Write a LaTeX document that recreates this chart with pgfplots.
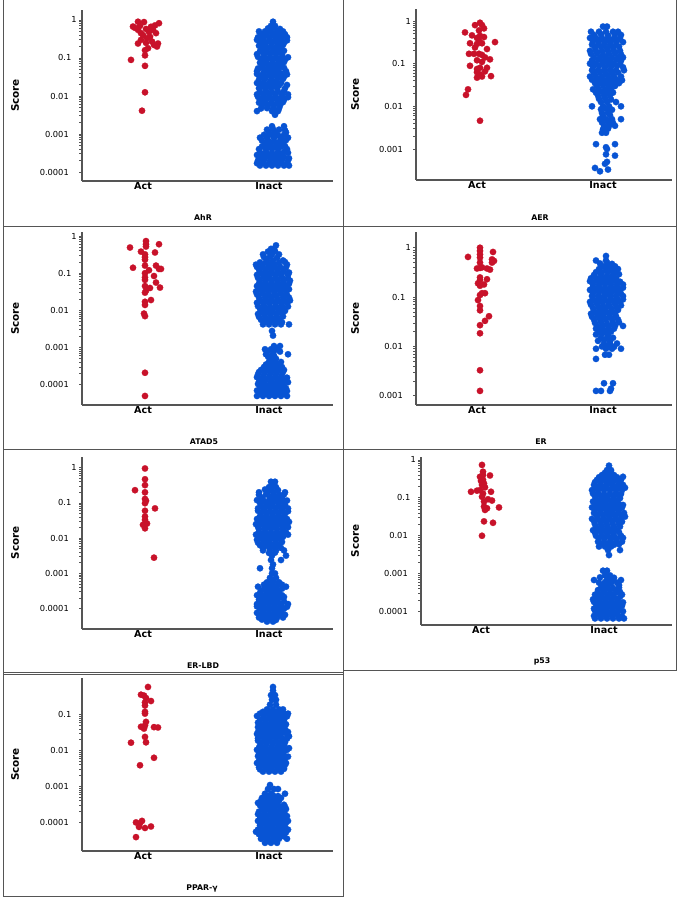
\documentclass[border=0pt]{standalone}
\usepackage{fontspec}
\setmainfont{DejaVu Sans}
\usepackage{pgfplots}
\pgfplotsset{compat=1.18}
\definecolor{actred}{RGB}{200,18,42}
\definecolor{inblue}{RGB}{8,84,212}
\definecolor{framec}{RGB}{85,85,85}
\newcommand{\tone}{\rlap{\kern3.2pt 1}}
\newcommand{\tpone}{\rlap{\kern2.5pt 0.1}\phantom{0.1}}
\pgfplotsset{
  panel/.style={
    scale only axis,
    axis x line=bottom, axis y line=left,
    axis line style={draw=framec, line width=1.1pt, -},
    xtick={0,126}, xticklabels={Act,Inact},
    x tick label style={font=\fontsize{9.6}{11}\selectfont\bfseries, inner sep=0pt, anchor=north, yshift=2pt},
    y tick label style={font=\fontsize{8.3}{10}\selectfont, inner sep=0pt, anchor=east, xshift=-10pt},
    tick align=outside, major tick length=3pt,
    every tick/.style={draw=framec, line width=0.8pt},
    every x tick/.style={draw=none},
    clip=false,
  },
  actpts/.style={only marks, mark=*, mark size=3.2pt, color=actred, mark options={fill=actred, draw=actred, line width=0.2pt}},
  inpts/.style={only marks, mark=*, mark size=3.2pt, color=inblue, mark options={fill=inblue, draw=inblue, line width=0.2pt}},
}
\begin{document}
\begin{tikzpicture}[x=1pt,y=1pt]
\path[use as bounding box] (0,0) rectangle (680,900);
% frames
\begin{scope}[draw=framec, line width=1pt]
\draw (3,900) -- (3,3);
\draw (343,900) -- (343,3);
\draw (676,900) -- (676,229);
\draw (3,673) -- (676,673);
\draw (3,450) -- (676,450);
\draw (3,227) -- (343,227);
\draw (3,225) -- (343,225);
\draw (343,229) -- (676,229);
\draw (3,3) -- (343,3);
\end{scope}
% titles and score labels
\begin{scope}[font=\fontsize{7.8}{9}\selectfont\bfseries]
\node at (203,682) {AhR};
\node at (540,682) {AER};
\node at (204,458) {ATAD5};
\node at (541,458) {ER};
\node at (203,234) {ER-LBD};
\node at (542,238.3) {p53};
\node at (202,11.3) {PPAR-γ};
\end{scope}
\begin{scope}[font=\fontsize{10.4}{12}\selectfont\bfseries]
\node[rotate=90] at (15,804.5) {Score};
\node[rotate=90] at (355,805.5) {Score};
\node[rotate=90] at (15,581.5) {Score};
\node[rotate=90] at (355,581.5) {Score};
\node[rotate=90] at (15,357.2) {Score};
\node[rotate=90] at (355,359.2) {Score};
\node[rotate=90] at (15,135.5) {Score};
\end{scope}

% ---------------- AhR ----------------
\begin{axis}[ymode=log, panel, at={(82pt,719pt)}, anchor=south west, width=251pt, height=171pt,
  xmin=-61, xmax=190, ymin=5.8e-5, ymax=1.83,
  ytick={1e-4,1e-3,1e-2,1e-1,1}, yticklabels={0.0001,0.001,0.01,\tpone,\tone}]
\addplot[actpts] coordinates {(-5,0.90) (1,0.88) (16,0.82) (-10,0.67) (-3,0.70) (8,0.66) (12,0.72) (3,0.58) (-5,0.55) (13,0.45) (0,0.40) (7,0.36) (-5,0.24) (3,0.25) (11,0.22) (-2,0.30) (5,0.18) (14,0.20) (9,0.27) (2,0.16) (15,0.24) (-8,0.62) (6,0.48) (-2,0.45) (10,0.55) (4,0.33) (-12,0.089) (2,0.117) (2,0.062) (2,0.0125) (-1,0.0041)};
\addplot[inpts] coordinates {(130,0.9) (128,0.7) (132,0.7)
(116,0.5) (122,0.5) (128,0.5) (134,0.5) (140,0.5)
(115,0.35) (121,0.35) (127,0.35) (133,0.35) (139,0.35) (144,0.35)
(117,0.25) (123,0.25) (129,0.25) (135,0.25) (141,0.25)
(119,0.18) (125,0.18) (131,0.18) (137,0.18)
(114,0.126) (121,0.126) (127,0.126) (133,0.126) (139,0.126)
(118,0.09) (124,0.09) (130,0.09) (136,0.09) (142,0.09)
(120,0.063) (126,0.063) (132,0.063) (138,0.063)
(114,0.045) (122,0.045) (128,0.045) (134,0.045) (143,0.045)
(117,0.032) (123,0.032) (129,0.032) (135,0.032) (141,0.032)
(114,0.022) (120,0.022) (126,0.022) (132,0.022) (138,0.022)
(116,0.016) (122,0.016) (128,0.016) (134,0.016) (142,0.016)
(114,0.011) (120,0.011) (126,0.011) (132,0.011) (139,0.011) (145,0.011)
(117,0.008) (123,0.008) (129,0.008) (135,0.008) (141,0.008)
(119,0.0056) (125,0.0056) (131,0.0056) (137,0.0056)
(114,0.004) (129,0.004) (135,0.004) (132,0.0032)
(129,0.0016) (141,0.0016)
(126,0.0011) (132,0.0011) (143,0.0011)
(117,0.0008) (124,0.0008) (131,0.0008) (138,0.0008) (145,0.0008)
(122,0.00056) (128,0.00056) (134,0.00056) (140,0.00056)
(116,0.0004) (123,0.0004) (129,0.0004) (135,0.0004) (144,0.0004)
(114,0.00028) (120,0.00028) (126,0.00028) (132,0.00028) (138,0.00028)
(115,0.0002) (121,0.0002) (127,0.0002) (133,0.0002) (139,0.0002) (145,0.0002)
(117,0.000148) (123,0.000148) (129,0.000148) (135,0.000148) (141,0.000148) (146,0.000148)};
\addplot[inpts] coordinates {(125,0.6) (131,0.62) (137,0.58)
(118,0.42) (124,0.44) (130,0.41) (136,0.43) (142,0.42)
(114,0.3) (120,0.31) (126,0.29) (132,0.3) (138,0.31) (144,0.29)
(116,0.21) (122,0.22) (128,0.2) (134,0.21) (140,0.22)
(117,0.15) (123,0.155) (129,0.145) (135,0.15) (141,0.155)
(115,0.107) (121,0.11) (127,0.104) (133,0.107) (139,0.11) (145,0.104)
(117,0.075) (123,0.078) (129,0.073) (135,0.075) (141,0.078)
(115,0.053) (118,0.055) (124,0.052) (130,0.054) (136,0.053) (141,0.055)
(114,0.038) (120,0.039) (126,0.037) (132,0.038) (138,0.039) (144,0.037)
(116,0.027) (122,0.028) (128,0.026) (134,0.027) (140,0.028)
(118,0.019) (124,0.0195) (130,0.0185) (136,0.019) (144,0.0195)
(117,0.013) (123,0.0135) (129,0.0127) (135,0.013) (141,0.0135)
(115,0.0095) (121,0.0097) (127,0.0093) (133,0.0095) (139,0.0097) (145,0.0093)
(116,0.0067) (122,0.0069) (128,0.0065) (134,0.0067) (140,0.0069)
(118,0.0047) (124,0.0048) (130,0.0046) (136,0.0047)
(124,0.0013) (130,0.00135) (136,0.0013) (142,0.00125)
(121,0.00095) (128,0.00097) (135,0.00093) (141,0.00095)
(119,0.00067) (125,0.00069) (131,0.00065) (137,0.00067) (143,0.00069)
(119,0.00047) (126,0.00048) (132,0.00046) (138,0.00047) (142,0.00048)
(117,0.00033) (123,0.00034) (129,0.00032) (135,0.00033) (141,0.00034) (145,0.00032)
(117,0.00024) (123,0.00025) (129,0.00023) (135,0.00024) (141,0.00025) (146,0.00023)
(114,0.00017) (120,0.000175) (126,0.000165) (132,0.00017) (138,0.000175) (144,0.000165)};
\end{axis}

% ---------------- AER ----------------
\begin{axis}[ymode=log, panel, at={(416pt,720pt)}, anchor=south west, width=256pt, height=171pt,
  xmin=-61, xmax=195, ymin=1.88e-4, ymax=1.91,
  ytick={1e-3,1e-2,1e-1,1}, yticklabels={0.001,0.01,\tpone,\tone}]
\addplot[actpts] coordinates {(-12,0.54) (3,0.91) (7,0.67) (-5,0.46) (3,0.45) (0,0.40) (7,0.42) (18,0.32) (-7,0.30) (0,0.29) (5,0.30) (10,0.22) (-8,0.17) (-3,0.17) (2,0.17) (5,0.16) (0,0.12) (5,0.11) (13,0.126) (-7,0.089) (3,0.08) (10,0.08) (0,0.075) (0,0.063) (8,0.066) (0,0.047) (5,0.05) (14,0.051) (-9,0.025) (-11,0.0185) (3,0.0046) (-2,0.8) (5,0.8) (2,0.6) (2,0.35) (8,0.14) (-2,0.24) (3,0.056)};
\addplot[inpts] coordinates {(126,0.74) (130,0.74)
(114,0.56) (122,0.56) (129,0.56) (136,0.56) (141,0.56)
(113,0.4) (119,0.4) (125,0.4) (131,0.4) (137,0.4) (143,0.4)
(115,0.28) (121,0.28) (127,0.28) (133,0.28) (139,0.28)
(113,0.2) (119,0.2) (125,0.2) (131,0.2) (137,0.2) (143,0.2)
(117,0.14) (123,0.14) (129,0.14) (135,0.14) (141,0.14) (146,0.14)
(113,0.1) (119,0.1) (125,0.1) (131,0.1) (137,0.1) (143,0.1)
(115,0.07) (121,0.07) (127,0.07) (133,0.07) (139,0.07) (147,0.07)
(113,0.05) (119,0.05) (125,0.05) (131,0.05) (137,0.05) (144,0.05)
(118,0.035) (124,0.035) (130,0.035) (136,0.035) (142,0.035)
(116,0.025) (122,0.025) (128,0.025) (134,0.025)
(121,0.018) (127,0.018) (133,0.018)
(124,0.0126) (130,0.0126) (139,0.0126)
(115,0.01) (126,0.01) (132,0.01) (144,0.01)
(125,0.007) (131,0.007)
(123,0.005) (129,0.005) (135,0.005) (144,0.005)
(127,0.0035) (132,0.0035) (138,0.0035)
(125,0.0024) (129,0.0024)
(119,0.0013) (138,0.0013) (129,0.0011) (130,0.001)
(129,0.00075) (138,0.0007)
(128,0.00045) (130,0.0005) (118,0.00036) (131,0.00033) (123,0.0003)};
\addplot[inpts] coordinates {(117,0.47) (124,0.49) (131,0.46) (138,0.48) (144,0.47)
(116,0.33) (122,0.34) (128,0.32) (134,0.33) (140,0.34) (146,0.32)
(118,0.24) (124,0.25) (130,0.23) (136,0.24) (142,0.25)
(114,0.17) (120,0.175) (126,0.165) (132,0.17) (138,0.175) (144,0.165)
(115,0.12) (121,0.124) (127,0.117) (133,0.12) (139,0.124) (144,0.117)
(116,0.085) (122,0.088) (128,0.082) (134,0.085) (140,0.088) (146,0.082)
(117,0.06) (123,0.062) (129,0.058) (135,0.06) (141,0.062)
(115,0.042) (121,0.043) (127,0.041) (133,0.042) (139,0.043) (145,0.041)
(120,0.03) (126,0.031) (132,0.029) (138,0.03)
(119,0.021) (125,0.022) (131,0.0205) (136,0.021)
(122,0.015) (128,0.0155) (134,0.0145)
(124,0.0085) (129,0.0088) (135,0.0083)
(126,0.006) (133,0.0062)
(125,0.0042) (131,0.0043) (136,0.0041)
(126,0.0029) (131,0.003)};
\end{axis}

% ---------------- ATAD5 ----------------
\begin{axis}[ymode=log, panel, at={(82pt,495pt)}, anchor=south west, width=251pt, height=173pt,
  xmin=-61, xmax=190, ymin=2.86e-5, ymax=1.28,
  ytick={1e-4,1e-3,1e-2,1e-1,1}, yticklabels={0.0001,0.001,0.01,\tpone,\tone}]
\addplot[actpts] coordinates {(-13,0.49) (3,0.73) (3,0.6) (3,0.52) (16,0.6) (12,0.36) (2,0.32) (2,0.27) (2,0.23) (-10,0.14) (13,0.16) (16,0.13) (18,0.13) (2,0.16) (2,0.1) (2,0.077) (2,0.066) (11,0.084) (13,0.056) (17,0.041) (2,0.045) (7,0.04) (3,0.034) (2,0.03) (8,0.019) (2,0.017) (2,0.014) (1,0.0082) (2,0.007) (2,0.00021) (2,0.00005) (-2,0.38) (6,0.12)};
\addplot[inpts] coordinates {(133,0.56) (128,0.45) (131,0.45)
(120,0.32) (129,0.32) (136,0.32)
(124,0.22) (130,0.22) (140,0.22)
(113,0.17) (120,0.17) (126,0.17) (132,0.17) (144,0.17)
(116,0.126) (122,0.126) (128,0.126) (134,0.126) (140,0.126)
(114,0.09) (120,0.09) (126,0.09) (132,0.09) (138,0.09) (145,0.09)
(117,0.063) (123,0.063) (129,0.063) (135,0.063) (141,0.063) (147,0.063)
(114,0.045) (120,0.045) (126,0.045) (132,0.045) (138,0.045) (144,0.045)
(113,0.032) (119,0.032) (125,0.032) (131,0.032) (137,0.032) (143,0.032)
(116,0.022) (122,0.022) (128,0.022) (134,0.022) (140,0.022) (146,0.022)
(114,0.016) (120,0.016) (126,0.016) (132,0.016) (138,0.016) (144,0.016)
(117,0.011) (123,0.011) (129,0.011) (135,0.011) (141,0.011)
(115,0.008) (121,0.008) (127,0.008) (133,0.008) (139,0.008)
(118,0.0056) (124,0.0056) (130,0.0056) (136,0.0056)
(120,0.0042) (126,0.0042) (132,0.0042) (138,0.0042) (146,0.0042)
(129,0.0028) (130,0.0021)
(131,0.0011) (137,0.0011)
(122,0.0009) (128,0.0009) (134,0.0009)
(123,0.00066) (130,0.00066) (145,0.00066)
(128,0.0005) (133,0.0005)
(123,0.00035) (129,0.00035) (135,0.00035)
(118,0.00025) (124,0.00025) (130,0.00025) (136,0.00025) (141,0.00025)
(115,0.00019) (121,0.00019) (127,0.00019) (133,0.00019) (139,0.00019)
(117,0.00014) (123,0.00014) (129,0.00014) (135,0.00014) (142,0.00014)
(115,0.000105) (121,0.000105) (127,0.000105) (133,0.000105) (139,0.000105)
(119,0.00008) (125,0.00008) (131,0.00008) (137,0.00008) (143,0.00008)
(116,0.000063) (122,0.000063) (128,0.000063) (134,0.000063) (140,0.000063)
(114,0.00005) (120,0.00005) (126,0.00005) (132,0.00005) (138,0.00005) (144,0.00005)};
\addplot[inpts] coordinates {(125,0.38) (132,0.39)
(121,0.27) (127,0.28) (134,0.26)
(117,0.195) (123,0.2) (129,0.19) (136,0.195) (142,0.2)
(114,0.147) (119,0.15) (125,0.143) (131,0.147) (137,0.15) (143,0.143)
(117,0.107) (123,0.11) (129,0.104) (135,0.107) (141,0.11) (146,0.104)
(115,0.075) (121,0.078) (127,0.073) (133,0.075) (139,0.078) (145,0.073)
(116,0.053) (122,0.055) (128,0.052) (134,0.053) (140,0.055) (146,0.052)
(116,0.038) (122,0.039) (128,0.037) (134,0.038) (140,0.039) (146,0.037)
(114,0.027) (120,0.028) (126,0.026) (132,0.027) (138,0.028) (144,0.026)
(117,0.019) (123,0.0195) (129,0.0185) (135,0.019) (141,0.0195) (147,0.0185)
(115,0.013) (121,0.0135) (127,0.0127) (133,0.013) (139,0.0135) (145,0.0127)
(118,0.0095) (124,0.0097) (130,0.0093) (136,0.0095) (142,0.0097)
(116,0.0067) (122,0.0069) (128,0.0065) (134,0.0067) (140,0.0069)
(121,0.0048) (127,0.0049) (133,0.0047) (139,0.0048)
(125,0.0008) (131,0.00082) (137,0.00078)
(125,0.00058) (131,0.0006)
(126,0.00042) (132,0.00043) (138,0.00041)
(121,0.0003) (127,0.00031) (133,0.00029) (139,0.0003)
(116,0.00022) (122,0.000225) (128,0.000215) (134,0.00022) (140,0.000225)
(114,0.00016) (120,0.000165) (126,0.000155) (132,0.00016) (138,0.000165) (144,0.000155)
(116,0.00012) (122,0.000124) (128,0.000117) (134,0.00012) (140,0.000124) (145,0.000117)
(117,0.00009) (123,0.000093) (129,0.000088) (135,0.00009) (141,0.000093)
(114,0.00007) (120,0.000072) (126,0.000068) (132,0.00007) (138,0.000072) (144,0.000068)
(117,0.000056) (123,0.000057) (129,0.000055) (135,0.000056) (141,0.000057)};
\end{axis}

% ---------------- ER ----------------
\begin{axis}[ymode=log, panel, at={(416pt,495pt)}, anchor=south west, width=256pt, height=173pt,
  xmin=-61, xmax=195, ymin=6.54e-4, ymax=2.08,
  ytick={1e-3,1e-2,1e-1,1}, yticklabels={0.001,0.01,\tpone,\tone}]
\addplot[actpts] coordinates {(-9,0.65) (3,1.0) (3,0.86) (3,0.73) (3,0.63) (16,0.82) (15,0.58) (17,0.54) (15,0.5) (3,0.5) (3,0.39) (0,0.38) (5,0.4) (10,0.38) (13,0.36) (3,0.25) (3,0.22) (10,0.23) (1,0.19) (3,0.17) (7,0.18) (5,0.12) (8,0.12) (3,0.11) (1,0.087) (3,0.066) (3,0.054) (12,0.041) (8,0.033) (3,0.027) (3,0.0185) (3,0.0033) (3,0.00126)};
\addplot[inpts] coordinates {(129,0.68) (119,0.55) (129,0.55)
(126,0.42) (132,0.42) (138,0.42)
(119,0.32) (125,0.32) (131,0.32) (137,0.32)
(114,0.24) (121,0.24) (127,0.24) (133,0.24) (139,0.24)
(116,0.18) (122,0.18) (128,0.18) (134,0.18) (140,0.18) (146,0.18)
(113,0.14) (119,0.14) (125,0.14) (131,0.14) (137,0.14) (143,0.14)
(115,0.105) (121,0.105) (127,0.105) (133,0.105) (139,0.105) (146,0.105)
(113,0.08) (119,0.08) (125,0.08) (131,0.08) (137,0.08) (143,0.08)
(116,0.06) (122,0.06) (128,0.06) (134,0.06) (140,0.06)
(114,0.046) (120,0.046) (126,0.046) (132,0.046) (138,0.046)
(117,0.035) (123,0.035) (129,0.035) (135,0.035) (141,0.035)
(120,0.026) (126,0.026) (132,0.026) (138,0.026) (146,0.026)
(122,0.02) (128,0.02) (134,0.02)
(124,0.015) (130,0.015) (136,0.015)
(127,0.0115) (133,0.0115) (140,0.0115)
(119,0.009) (129,0.009) (135,0.009) (144,0.009)
(128,0.0068) (132,0.0068) (119,0.0056)
(127,0.0018) (136,0.0018) (134,0.0014)
(119,0.00126) (124,0.00126) (133,0.00126)};
\addplot[inpts] coordinates {(123,0.48) (130,0.5) (135,0.47)
(122,0.37) (129,0.38) (135,0.36) (141,0.37)
(117,0.28) (124,0.29) (130,0.27) (136,0.28) (142,0.29)
(113,0.21) (119,0.215) (125,0.205) (131,0.21) (137,0.215) (143,0.205)
(116,0.16) (122,0.165) (128,0.155) (134,0.16) (140,0.165) (146,0.155)
(116,0.12) (122,0.124) (128,0.117) (134,0.12) (140,0.124) (144,0.117)
(116,0.092) (122,0.095) (128,0.09) (134,0.092) (140,0.095) (146,0.09)
(114,0.07) (120,0.072) (126,0.068) (132,0.07) (138,0.072) (144,0.068)
(117,0.053) (123,0.055) (129,0.052) (135,0.053) (141,0.055)
(115,0.04) (121,0.041) (127,0.039) (133,0.04) (139,0.041)
(118,0.03) (124,0.031) (130,0.029) (136,0.03) (142,0.031)
(119,0.023) (125,0.0235) (131,0.0225) (137,0.023)
(119,0.0175) (125,0.018) (131,0.017)
(121,0.013) (127,0.0135) (133,0.0127)
(125,0.01) (131,0.0103) (137,0.0098)};
\end{axis}

% ---------------- ER-LBD ----------------
\begin{axis}[ymode=log, panel, at={(82pt,271pt)}, anchor=south west, width=251pt, height=172.3pt,
  xmin=-61, xmax=190, ymin=2.65e-5, ymax=2.05,
  ytick={1e-4,1e-3,1e-2,1e-1,1}, yticklabels={0.0001,0.001,0.01,\tpone,\tone}]
\addplot[actpts] coordinates {(2,0.95) (2,0.47) (2,0.32) (-8,0.23) (2,0.2) (2,0.13) (3,0.115) (2,0.098) (12,0.07) (2,0.06) (2,0.041) (2,0.033) (4,0.026) (0,0.024) (2,0.019) (11,0.0028)};
\addplot[inpts] coordinates {(128,0.4) (132,0.4) (126,0.28) (133,0.28)
(116,0.2) (125,0.2) (131,0.2) (142,0.2)
(119,0.14) (127,0.14) (133,0.14) (139,0.14)
(117,0.1) (123,0.1) (129,0.1) (135,0.1) (141,0.1)
(115,0.07) (121,0.07) (127,0.07) (133,0.07) (139,0.07) (145,0.07)
(118,0.05) (124,0.05) (130,0.05) (136,0.05) (142,0.05)
(114,0.035) (120,0.035) (126,0.035) (132,0.035) (138,0.035) (144,0.035)
(113,0.025) (119,0.025) (125,0.025) (131,0.025) (137,0.025) (143,0.025)
(116,0.018) (122,0.018) (128,0.018) (134,0.018) (140,0.018)
(113,0.0126) (119,0.0126) (125,0.0126) (131,0.0126) (137,0.0126) (145,0.0126)
(114,0.009) (120,0.009) (126,0.009) (132,0.009) (138,0.009)
(117,0.0063) (123,0.0063) (129,0.0063) (135,0.0063)
(120,0.0045) (127,0.0045) (133,0.0045) (141,0.0045)
(129,0.0032) (143,0.0032) (128,0.0024) (138,0.0024) (130,0.0018)
(117,0.0014) (129,0.0014) (129,0.001) (132,0.001)
(127,0.00075) (133,0.00075)
(124,0.00056) (130,0.00056) (136,0.00056)
(115,0.00042) (126,0.00042) (132,0.00042) (143,0.00042)
(118,0.00032) (124,0.00032) (130,0.00032) (136,0.00032)
(114,0.00024) (121,0.00024) (127,0.00024) (133,0.00024) (139,0.00024)
(116,0.00018) (122,0.00018) (128,0.00018) (134,0.00018)
(114,0.000135) (120,0.000135) (126,0.000135) (132,0.000135) (138,0.000135) (145,0.000135)
(117,0.0001) (123,0.0001) (129,0.0001) (135,0.0001) (141,0.0001)
(114,0.000076) (120,0.000076) (126,0.000076) (132,0.000076) (138,0.000076)
(116,0.000056) (122,0.000056) (128,0.000056) (134,0.000056) (140,0.000056)
(124,0.000043) (130,0.000043)};
\addplot[inpts] coordinates {(129,0.33) (131,0.34)
(122,0.24) (128,0.25) (135,0.23)
(116,0.17) (123,0.175) (130,0.165) (136,0.17) (141,0.175)
(114,0.12) (120,0.124) (126,0.117) (132,0.12) (138,0.124) (144,0.117)
(118,0.085) (124,0.088) (130,0.082) (136,0.085) (142,0.088)
(115,0.06) (121,0.062) (127,0.058) (133,0.06) (139,0.062) (145,0.058)
(117,0.042) (123,0.043) (129,0.041) (135,0.042) (141,0.043)
(116,0.03) (122,0.031) (128,0.029) (134,0.03) (140,0.031) (146,0.029)
(115,0.021) (121,0.022) (127,0.0205) (133,0.021) (139,0.022) (145,0.0205)
(116,0.015) (122,0.0155) (128,0.0145) (134,0.015) (140,0.0155) (143,0.0145)
(116,0.0107) (122,0.011) (128,0.0104) (134,0.0107) (140,0.011)
(115,0.0075) (121,0.0078) (127,0.0073) (133,0.0075) (139,0.0078)
(120,0.0053) (126,0.0055) (132,0.0052) (138,0.0053)
(126,0.0038) (132,0.0039)
(130,0.00065)
(121,0.00048) (129,0.00049) (135,0.00047) (139,0.00048)
(121,0.00037) (127,0.00038) (133,0.00036) (139,0.00037)
(117,0.00028) (124,0.00029) (130,0.00027) (136,0.00028)
(119,0.00021) (125,0.000215) (131,0.000205) (137,0.00021) (141,0.000215)
(117,0.000155) (123,0.00016) (129,0.00015) (135,0.000155) (141,0.00016)
(114,0.000116) (120,0.00012) (126,0.000113) (132,0.000116) (138,0.00012) (144,0.000113)
(120,0.000088) (126,0.00009) (132,0.000086) (138,0.000088)
(118,0.000065) (124,0.000067) (130,0.000063) (136,0.000065) (142,0.000067)
(119,0.000049) (127,0.00005) (133,0.000048)};
\end{axis}

% ---------------- p53 ----------------
\begin{axis}[ymode=log, panel, at={(421pt,275pt)}, anchor=south west, width=251pt, height=168.3pt,
  xmin=-60, xmax=191, ymin=4.43e-5, ymax=1.22, xtick={0,123},
  ytick={1e-4,1e-3,1e-2,1e-1,1}, yticklabels={0.0001,0.001,0.01,\tpone,\tone}]
\addplot[actpts] coordinates {(1,0.74) (2,0.49) (2,0.4) (9,0.39) (-1,0.36) (2,0.3) (3,0.24) (1,0.22) (-10,0.145) (-4,0.155) (10,0.145) (-1,0.16) (2,0.13) (1,0.107) (7,0.092) (11,0.085) (3,0.08) (3,0.059) (18,0.056) (4,0.048) (6,0.053) (3,0.024) (12,0.022) (1,0.01) (0,0.28) (4,0.19)};
\addplot[inpts] coordinates {(128,0.71) (126,0.54) (130,0.54)
(121,0.4) (127,0.4) (133,0.4)
(116,0.3) (122,0.3) (128,0.3) (134,0.3) (140,0.3)
(113,0.22) (119,0.22) (125,0.22) (131,0.22) (137,0.22) (142,0.22)
(111,0.16) (117,0.16) (123,0.16) (129,0.16) (135,0.16) (141,0.16)
(114,0.11) (120,0.11) (126,0.11) (132,0.11) (138,0.11)
(112,0.08) (118,0.08) (124,0.08) (130,0.08) (136,0.08)
(111,0.056) (117,0.056) (123,0.056) (129,0.056) (135,0.056) (141,0.056)
(113,0.04) (119,0.04) (125,0.04) (131,0.04) (137,0.04) (143,0.04)
(111,0.028) (117,0.028) (123,0.028) (129,0.028) (135,0.028) (140,0.028)
(114,0.02) (120,0.02) (126,0.02) (132,0.02) (138,0.02)
(112,0.014) (118,0.014) (124,0.014) (130,0.014) (136,0.014)
(115,0.01) (121,0.01) (127,0.01) (133,0.01) (140,0.01)
(117,0.007) (123,0.007) (129,0.007) (135,0.007) (141,0.007)
(118,0.0052) (124,0.0052) (130,0.0052)
(127,0.0042) (139,0.0042) (128,0.0031)
(122,0.0012) (126,0.0012) (124,0.0009) (129,0.0009)
(113,0.00068) (126,0.00068) (132,0.00068) (140,0.00068)
(121,0.0005) (127,0.0005) (138,0.0005)
(117,0.00037) (123,0.00037) (129,0.00037) (135,0.00037)
(114,0.00028) (120,0.00028) (126,0.00028) (132,0.00028) (141,0.00028)
(112,0.00021) (118,0.00021) (124,0.00021) (130,0.00021) (136,0.00021)
(115,0.00016) (121,0.00016) (127,0.00016) (133,0.00016) (140,0.00016)
(113,0.00012) (119,0.00012) (125,0.00012) (131,0.00012) (137,0.00012)
(116,0.00009) (122,0.00009) (128,0.00009) (134,0.00009)
(114,0.000066) (120,0.000066) (126,0.000066) (132,0.000066) (138,0.000066) (143,0.000066)};
\addplot[inpts] coordinates {(124,0.46) (130,0.47)
(118,0.35) (124,0.36) (130,0.34) (136,0.35) (142,0.36)
(114,0.26) (120,0.27) (126,0.25) (132,0.26) (138,0.27)
(114,0.19) (120,0.195) (126,0.185) (132,0.19) (138,0.195) (144,0.185)
(112,0.13) (117,0.134) (123,0.127) (129,0.13) (135,0.134) (140,0.127)
(115,0.095) (121,0.098) (127,0.092) (133,0.095) (139,0.098)
(114,0.067) (120,0.069) (126,0.065) (132,0.067) (138,0.069) (142,0.065)
(114,0.047) (120,0.048) (126,0.046) (132,0.047) (138,0.048)
(116,0.033) (122,0.034) (128,0.032) (134,0.033) (140,0.034) (144,0.032)
(113,0.024) (119,0.0245) (125,0.0235) (131,0.024) (137,0.0245) (141,0.0235)
(115,0.017) (121,0.0175) (127,0.0165) (133,0.017) (139,0.0175)
(114,0.012) (120,0.0124) (126,0.0117) (132,0.012) (138,0.0124)
(118,0.0085) (124,0.0088) (130,0.0083) (136,0.0085) (142,0.0088)
(121,0.006) (127,0.0062) (133,0.0058) (138,0.006)
(119,0.0008) (128,0.00082) (133,0.00078)
(118,0.00058) (124,0.0006) (130,0.00056) (136,0.00058)
(120,0.00043) (126,0.00044) (132,0.00042) (138,0.00043)
(117,0.00032) (123,0.00033) (129,0.00031) (135,0.00032) (139,0.00033)
(115,0.00024) (121,0.000245) (127,0.000235) (133,0.00024) (139,0.000245)
(113,0.00018) (119,0.000185) (125,0.000175) (131,0.00018) (137,0.000185) (142,0.000175)
(117,0.00014) (123,0.000143) (129,0.000137) (135,0.00014) (141,0.000143)
(114,0.000105) (120,0.000108) (126,0.000102) (132,0.000105) (138,0.000108) (142,0.000102)
(113,0.000077) (119,0.000079) (125,0.000075) (131,0.000077) (137,0.000079) (141,0.000075)};
\end{axis}

% ---------------- PPAR-gamma ----------------
\begin{axis}[ymode=log, panel, at={(82pt,49pt)}, anchor=south west, width=251pt, height=173pt,
  xmin=-61, xmax=190, ymin=1.6e-5, ymax=1.05,
  ytick={1e-4,1e-3,1e-2,1e-1}, yticklabels={0.0001,0.001,0.01,\tpone}]
\addplot[actpts] coordinates {(5,0.59) (-2,0.36) (1,0.34) (3,0.29) (8,0.24) (2,0.22) (2,0.18) (2,0.12) (2,0.107) (3,0.063) (2,0.05) (-2,0.046) (1,0.041) (11,0.045) (15,0.044) (2,0.024) (3,0.017) (-12,0.0166) (11,0.0063) (-3,0.0039) (-7,0.0001) (-1,0.00011) (-4,0.000075) (2,0.00007) (8,0.000077) (-7,0.000039) (-3,0.000095)};
\addplot[inpts] coordinates {(130,0.59) (130,0.47) (128,0.35) (132,0.35) (129,0.26) (133,0.26) (127,0.19) (133,0.19)
(124,0.14) (130,0.14) (136,0.14) (140,0.14)
(117,0.107) (123,0.107) (129,0.107) (135,0.107) (141,0.107) (145,0.107)
(120,0.08) (126,0.08) (132,0.08) (138,0.08)
(115,0.06) (122,0.06) (128,0.06) (134,0.06) (140,0.06)
(115,0.045) (121,0.045) (127,0.045) (133,0.045) (139,0.045)
(115,0.033) (122,0.033) (128,0.033) (134,0.033) (140,0.033) (145,0.033)
(118,0.025) (124,0.025) (130,0.025) (136,0.025) (146,0.025)
(115,0.019) (121,0.019) (127,0.019) (133,0.019) (139,0.019)
(117,0.014) (123,0.014) (129,0.014) (135,0.014) (141,0.014)
(114,0.0105) (120,0.0105) (126,0.0105) (132,0.0105) (138,0.0105) (144,0.0105)
(116,0.008) (122,0.008) (128,0.008) (134,0.008) (140,0.008)
(118,0.006) (124,0.006) (130,0.006) (136,0.006) (142,0.006)
(114,0.0045) (120,0.0045) (126,0.0045) (132,0.0045) (138,0.0045) (143,0.0045)
(116,0.0034) (122,0.0034) (128,0.0034) (134,0.0034) (140,0.0034)
(120,0.0026) (126,0.0026) (132,0.0026) (138,0.0026)
(127,0.0011) (125,0.00085) (131,0.00085) (135,0.00085)
(122,0.00063) (128,0.00063) (142,0.00063)
(119,0.00048) (126,0.00048) (132,0.00048) (138,0.00048)
(115,0.00035) (122,0.00035) (128,0.00035) (134,0.00035)
(120,0.00027) (126,0.00027) (132,0.00027) (138,0.00027) (142,0.00027)
(116,0.0002) (122,0.0002) (128,0.0002) (134,0.0002) (140,0.0002)
(118,0.00015) (124,0.00015) (130,0.00015) (136,0.00015) (144,0.00015)
(115,0.00011) (121,0.00011) (127,0.00011) (133,0.00011) (139,0.00011) (145,0.00011)
(117,0.000083) (123,0.000083) (129,0.000083) (135,0.000083) (141,0.000083)
(115,0.000063) (121,0.000063) (127,0.000063) (133,0.000063) (139,0.000063) (145,0.000063)
(116,0.000047) (122,0.000047) (128,0.000047) (134,0.000047) (140,0.000047)
(118,0.000035) (124,0.000035) (130,0.000035) (136,0.000035) (144,0.000035)
(122,0.000027) (128,0.000027) (134,0.000027)};
\addplot[inpts] coordinates {(120,0.12) (126,0.124) (132,0.117) (138,0.12)
(114,0.092) (121,0.095) (127,0.09) (133,0.092) (139,0.095) (144,0.09)
(117,0.07) (123,0.072) (129,0.068) (135,0.07) (141,0.072)
(118,0.052) (124,0.054) (130,0.051) (136,0.052) (143,0.054)
(118,0.039) (124,0.04) (130,0.038) (136,0.039) (142,0.04)
(114,0.029) (120,0.03) (126,0.028) (132,0.029) (138,0.03) (144,0.028)
(115,0.022) (121,0.0225) (127,0.0215) (133,0.022) (139,0.0225) (144,0.0215)
(118,0.0165) (124,0.017) (130,0.016) (136,0.0165) (142,0.017)
(116,0.012) (122,0.0124) (128,0.0117) (134,0.012) (140,0.0124) (146,0.0117)
(117,0.009) (123,0.0093) (129,0.0088) (135,0.009) (141,0.0093)
(115,0.007) (121,0.0072) (127,0.0068) (133,0.007) (139,0.0072) (145,0.0068)
(116,0.0052) (122,0.0054) (128,0.0051) (134,0.0052) (140,0.0054)
(118,0.0039) (124,0.004) (130,0.0038) (136,0.0039) (142,0.004)
(117,0.003) (123,0.0031) (129,0.0029) (135,0.003) (141,0.0031)
(124,0.00055) (130,0.00057) (135,0.00054)
(118,0.0004) (124,0.00041) (130,0.00039) (136,0.0004)
(117,0.0003) (123,0.00031) (129,0.00029) (135,0.0003) (141,0.00031)
(119,0.00023) (125,0.000235) (131,0.000225) (137,0.00023) (143,0.000235)
(115,0.00017) (121,0.000175) (127,0.000165) (133,0.00017) (139,0.000175) (142,0.000165)
(117,0.00013) (123,0.000134) (129,0.000127) (135,0.00013) (141,0.000134)
(119,0.000095) (125,0.000098) (131,0.000092) (137,0.000095) (143,0.000098)
(118,0.000072) (124,0.000074) (130,0.00007) (136,0.000072) (142,0.000074)
(113,0.000055) (119,0.000057) (125,0.000053) (131,0.000055) (137,0.000057) (143,0.000053)
(119,0.00004) (125,0.000041) (131,0.000039) (137,0.00004) (141,0.000041)
(126,0.00003) (132,0.000031)};
\end{axis}
\end{tikzpicture}
\end{document}
